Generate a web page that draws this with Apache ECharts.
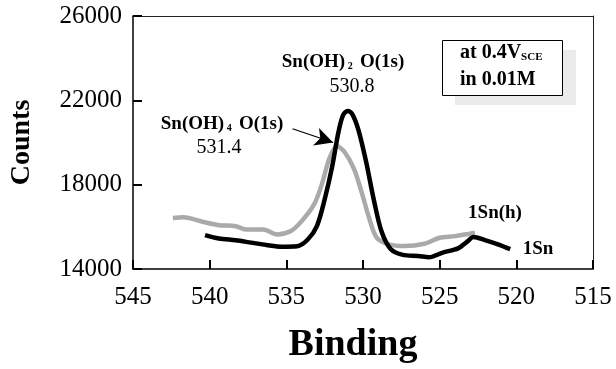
<!DOCTYPE html>
<html>
<head>
<meta charset="utf-8">
<script src="https://cdn.jsdelivr.net/npm/echarts@6/dist/echarts.min.js"></script>
<style>html,body{margin:0;padding:0;background:#fff}#c{width:616px;height:369px}</style>
</head>
<body>
<div id="c"></div>
<script>
// Sn(OH)4 O(1s) series (gray)
const grayX = [542.4, 541.7, 540.4, 539.4, 538.3, 537.6, 536.5, 535.6, 534.7, 534.0, 533.2, 532.7, 532.2, 531.7, 531.2, 530.6, 530.1, 529.6, 529.1, 528.3, 527.3, 526.0, 525.0, 524.0, 522.7];
const grayY = [16420, 16450, 16230, 16080, 16030, 15870, 15870, 15640, 15800, 16270, 17050, 17980, 19230, 19830, 19550, 18770, 17670, 16420, 15480, 15170, 15090, 15200, 15480, 15560, 15720];
// Sn(OH)2 O(1s) series (black)
const blackX = [540.3, 539.4, 538.3, 537.3, 536.3, 535.3, 534.3, 533.6, 533.0, 532.5, 532.0, 531.6, 531.3, 531.0, 530.7, 530.3, 529.8, 529.3, 528.8, 528.2, 527.4, 526.4, 525.7, 524.8, 523.8, 523.2, 522.8, 522.0, 521.2, 520.4];
const blackY = [15610, 15450, 15360, 15250, 15140, 15060, 15080, 15400, 16050, 17300, 18900, 20500, 21300, 21500, 21350, 20600, 19100, 17300, 15800, 14950, 14670, 14620, 14560, 14780, 14980, 15300, 15520, 15360, 15170, 14940];
const arrowFrom = [534.6, 20650];
const arrowTo = [531.95, 20000];

const F = '"Liberation Serif", "Times New Roman", serif';
const chart = echarts.init(document.getElementById('c'), null, {renderer: 'canvas'});
const pairs = (xs, ys) => xs.map((x, i) => [x, ys[i]]);
const frameAxis = {axisLine: {show: true, onZero: false, lineStyle: {color: '#222', width: 1}}, axisTick: {show: false}, axisLabel: {show: false}, splitLine: {show: false}};

chart.setOption({
  animation: false,
  backgroundColor: '#fff',
  grid: {left: 133, right: 23, top: 16, bottom: 97},
  xAxis: [{
    type: 'value', inverse: true, min: 515, max: 545, interval: 5,
    name: 'Binding', nameLocation: 'middle', nameGap: 57,
    nameTextStyle: {fontFamily: F, fontWeight: 'bold', fontSize: 38, color: '#000', padding: [0, 20, 0, 0]},
    axisLine: {show: true, lineStyle: {color: '#000', width: 1.5}},
    axisTick: {show: true, inside: true, length: 9, lineStyle: {color: '#000', width: 2}},
    axisLabel: {fontFamily: F, fontSize: 25, color: '#000', margin: 16, formatter: v => String(v)},
    splitLine: {show: false}
  }, Object.assign({type: 'value', inverse: true, min: 515, max: 545, position: 'top'}, frameAxis)],
  yAxis: [{
    type: 'value', min: 14000, max: 26000, interval: 4000,
    name: 'Counts', nameLocation: 'middle', nameGap: 97,
    nameTextStyle: {fontFamily: F, fontWeight: 'bold', fontSize: 28, color: '#000'},
    axisLine: {show: true, lineStyle: {color: '#000', width: 1.5}},
    axisTick: {show: true, inside: true, length: 9, lineStyle: {color: '#000', width: 2}},
    axisLabel: {fontFamily: F, fontSize: 25, color: '#000', margin: 11, formatter: v => String(v)},
    splitLine: {show: false}
  }, Object.assign({type: 'value', min: 14000, max: 26000, position: 'right'}, frameAxis)],
  series: [
    {
      type: 'line', name: 'Sn(OH)4', data: pairs(grayX, grayY), showSymbol: false, smooth: 0.3,
      lineStyle: {color: '#aaaaaa', width: 4.5},
      markLine: {
        silent: true, symbol: ['none', 'arrow'], symbolSize: [14, 18],
        lineStyle: {color: '#000', width: 1.2, type: 'solid'}, label: {show: false},
        data: [[{coord: arrowFrom}, {coord: arrowTo}]]
      }
    },
    {
      type: 'line', name: 'Sn(OH)2', data: pairs(blackX, blackY), showSymbol: false, smooth: 0.3,
      lineStyle: {color: '#000', width: 4.5}
    }
  ],
  graphic: [
    {type: 'rect', shape: {x: 455, y: 50, width: 121, height: 55}, style: {fill: '#ebebeb'}, z: 10},
    {type: 'rect', shape: {x: 442.5, y: 40.5, width: 120, height: 55}, style: {fill: '#fff', stroke: '#000', lineWidth: 1}, z: 11},
    {type: 'text', x: 460, y: 53, z: 12, style: {
      text: '{a|at 0.4V}{s|SCE}', verticalAlign: 'middle',
      rich: {a: {fontFamily: F, fontWeight: 'bold', fontSize: 20, color: '#000'},
             s: {fontFamily: F, fontWeight: 'bold', fontSize: 11, color: '#000', verticalAlign: 'bottom', padding: [6, 0, 0, 0]}}}},
    {type: 'text', x: 460, y: 80, z: 12, style: {text: 'in 0.01M', fontFamily: F, fontWeight: 'bold', fontSize: 20, fill: '#000', verticalAlign: 'middle'}},
    {type: 'text', x: 343, y: 62, z: 12, style: {
      text: '{a|Sn(OH)}{s| 2 }{a| O(1s)}', align: 'center', verticalAlign: 'middle',
      rich: {a: {fontFamily: F, fontWeight: 'bold', fontSize: 19, color: '#000'},
             s: {fontFamily: F, fontWeight: 'bold', fontSize: 10, color: '#000', verticalAlign: 'bottom', padding: [7, 0, 0, 0]}}}},
    {type: 'text', x: 352, y: 87, z: 12, style: {text: '530.8', fontFamily: F, fontSize: 20, fill: '#000', align: 'center', verticalAlign: 'middle'}},
    {type: 'text', x: 222, y: 124, z: 12, style: {
      text: '{a|Sn(OH)}{s| 4 }{a| O(1s)}', align: 'center', verticalAlign: 'middle',
      rich: {a: {fontFamily: F, fontWeight: 'bold', fontSize: 19, color: '#000'},
             s: {fontFamily: F, fontWeight: 'bold', fontSize: 10, color: '#000', verticalAlign: 'bottom', padding: [7, 0, 0, 0]}}}},
    {type: 'text', x: 219, y: 148, z: 12, style: {text: '531.4', fontFamily: F, fontSize: 20, fill: '#000', align: 'center', verticalAlign: 'middle'}},
    {type: 'text', x: 495, y: 213, z: 12, style: {text: '1Sn(h)', fontFamily: F, fontWeight: 'bold', fontSize: 19, fill: '#000', align: 'center', verticalAlign: 'middle'}},
    {type: 'text', x: 538, y: 249, z: 12, style: {text: '1Sn', fontFamily: F, fontWeight: 'bold', fontSize: 19, fill: '#000', align: 'center', verticalAlign: 'middle'}}
  ]
});
</script>
</body>
</html>
